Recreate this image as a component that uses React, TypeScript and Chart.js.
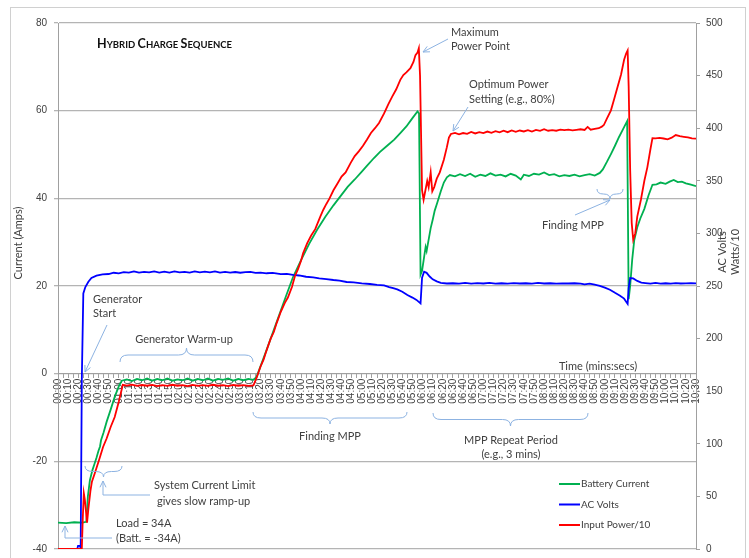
import React, { useEffect, useRef } from 'react';
import { Chart, registerables } from 'chart.js';

Chart.register(...registerables);

// ---------- data ----------
const batteryTime = [0, 8, 16, 24, 28, 29.5, 31.5, 34, 36, 38, 40, 41.5, 42.5, 45, 48, 52, 56, 60, 63, 68, 73, 78, 83, 88, 93, 98, 103, 108, 113, 118, 123, 128, 133, 138, 143, 148, 153, 158, 163, 168, 173, 178, 183, 188, 193, 196, 205, 215, 225, 232, 240, 248, 256, 264, 272, 279, 286, 293, 300, 305, 312, 318, 325, 332, 338, 344, 350, 355, 356.5, 358, 359.5, 361, 363, 364, 366, 368, 370, 372, 374.5, 378, 381, 384, 387, 392, 397, 402, 407, 412, 417, 422, 427, 432, 437, 442, 447, 452, 457, 460, 465, 470, 475, 480, 485, 490, 495, 500, 505, 510, 515, 520, 525, 530, 535, 538, 542, 546, 550, 554, 558, 562, 563.5, 565, 567, 569, 572, 575, 579, 583, 587, 591, 595, 600, 604, 608, 612, 616, 620, 625, 630];
const batteryAmps = [-34.0, -34.1, -33.9, -34.0, -33.8, -28, -24.3, -22.0, -20.6, -19.2, -17.6, -16.6, -15.2, -13.4, -11.0, -8.2, -5.3, -2.9, -1.6, -1.3, -1.7, -1.2, -1.5, -1.1, -1.6, -1.2, -1.5, -1.1, -1.6, -1.3, -1.5, -1.1, -1.6, -1.2, -1.5, -1.1, -1.6, -1.2, -1.4, -1.1, -1.6, -1.2, -1.5, -1.2, -1.4, -0.8, 4.8, 11.2, 17.6, 22.0, 25.9, 29.6, 32.9, 35.8, 38.4, 40.5, 42.6, 44.3, 46.1, 47.4, 49.2, 50.6, 52.0, 53.4, 54.9, 56.4, 58.3, 59.8, 59.4, 22.6, 23.5, 25.8, 28.9, 28.0, 30.6, 33.2, 35.1, 37.2, 39.0, 41.6, 43.6, 44.8, 45.3, 45.0, 45.5, 45.1, 45.6, 44.9, 45.4, 45.1, 45.7, 45.2, 45.4, 45.0, 45.6, 45.2, 44.3, 45.4, 45.1, 45.6, 45.4, 45.9, 45.3, 45.5, 45.0, 45.3, 45.1, 45.4, 45.0, 45.3, 45.5, 45.2, 45.8, 46.6, 48.3, 50.1, 52.0, 54.0, 55.8, 57.6, 17.0, 20.0, 26.0, 30.4, 33.4, 35.4, 37.6, 40.6, 43.1, 43.2, 43.6, 43.3, 43.8, 44.2, 43.7, 43.8, 43.4, 43.1, 42.8];

const acTime = [0, 19, 19.8, 21.5, 22.4, 23.5, 25, 27, 30, 33, 38, 44, 50, 55, 60, 65, 70, 75, 80, 85, 90, 95, 100, 105, 110, 115, 120, 125, 130, 135, 140, 145, 150, 155, 160, 165, 170, 175, 180, 185, 190, 195, 200, 206, 212, 220, 226, 232, 238, 245, 252, 258, 265, 272, 278, 285, 292, 300, 308, 315, 322, 327, 331, 335, 340, 345, 350, 354, 358, 359.5, 361.5, 364, 367, 370, 374, 378, 384, 390, 396, 402, 408, 414, 420, 426, 432, 438, 444, 450, 456, 462, 468, 474, 480, 486, 492, 498, 504, 510, 516, 520, 525, 530, 535, 540, 545, 550, 555, 559, 562.5, 563.5, 565, 568, 572, 576, 580, 585, 590, 595, 600, 605, 610, 615, 620, 625, 630];
const acVolts = [0, 0, 3, 3, 1, 160, 243, 249, 254, 257.6, 259.8, 261.0, 261.4, 262.6, 262.0, 263.2, 262.8, 263.8, 262.7, 263.5, 262.9, 263.9, 262.8, 263.6, 262.7, 263.8, 262.9, 263.5, 262.8, 263.9, 262.9, 263.6, 263.0, 263.8, 262.7, 263.5, 262.8, 263.3, 262.6, 263.2, 263.4, 262.5, 262.8, 262.1, 262.4, 261.3, 261.6, 260.5, 260.0, 258.8, 258.2, 257.2, 256.6, 255.7, 255.1, 253.8, 253.5, 252.5, 251.9, 251.0, 250.5, 249.0, 248.0, 246.8, 244.6, 241.4, 239.0, 236.8, 233.5, 258, 263.6, 262.5, 259.0, 256.3, 254.4, 253.0, 252.4, 252.6, 252.2, 252.9, 252.3, 252.7, 252.4, 253.0, 252.3, 252.6, 252.3, 252.8, 252.4, 252.6, 252.3, 252.9, 252.4, 252.6, 252.3, 252.5, 252.4, 252.6, 252.3, 251.6, 252.2, 251.2, 250.2, 248.5, 246.4, 243.5, 240.8, 238.0, 233.0, 248, 257.6, 257.2, 254.8, 253.2, 252.8, 252.2, 252.9, 252.3, 252.6, 252.2, 252.8, 252.4, 252.5, 252.8, 252.5];

const powerTime = [0, 23.5, 24.5, 25.5, 26.5, 28.7, 30, 32, 33.5, 36, 38, 41, 44.5, 48, 52, 56, 60, 64, 68, 73, 78, 83, 88, 93, 98, 103, 108, 113, 118, 123, 128, 133, 138, 143, 148, 153, 158, 163, 168, 173, 178, 183, 188, 193, 196.5, 200, 203, 205, 208, 210, 213, 216, 220, 224, 227, 231, 234, 237, 240, 242, 246, 250, 254, 259, 262, 265, 268, 272, 276, 280, 284, 289, 293, 297, 301, 305, 309, 313, 317, 322, 326, 330, 334, 338, 341, 344, 348, 351, 353, 355, 356.3, 357.5, 359.5, 361, 363, 364.6, 366, 368, 369.6, 371.5, 374, 377, 381, 384, 386, 388, 392, 396, 400, 404, 408, 412, 416, 420, 424, 428, 432, 436, 440, 444, 448, 452, 456, 460, 464, 468, 472, 476, 480, 484, 488, 492, 496, 500, 504, 508, 512, 516, 520, 523, 526, 530, 534, 537, 539, 542, 546, 549, 552.6, 556, 559, 561, 562.5, 563.5, 565, 566.5, 568, 570, 572, 575.6, 579, 582, 585, 587, 590, 594, 598, 602, 606, 610, 614, 618, 622, 626, 630];
const powerWattsTen = [0, 0, 30, 53, 47, 25, 38, 55, 64, 71, 77, 86, 97, 105, 116, 125.5, 140, 156, 155.4, 156.2, 155.0, 155.9, 155.2, 156.0, 154.9, 155.7, 155.0, 156.1, 155.2, 155.8, 154.9, 156.0, 155.1, 155.8, 155.0, 156.1, 155.2, 155.7, 154.9, 155.9, 155.2, 155.8, 155.1, 155.6, 163.8, 173.5, 180, 186, 194.5, 200, 206, 215, 225.5, 234, 239, 249, 259.5, 266, 274, 281, 290.5, 298, 304, 316, 322.5, 328, 333, 341, 347.5, 354, 358, 367, 373.5, 378, 383, 389, 395.5, 400, 405, 414, 422.5, 430, 437, 446, 450.5, 453, 457, 463, 469.5, 472, 476, 450, 341, 332, 342, 350, 344, 358, 340, 344, 352, 358, 370, 382, 391, 394.5, 395.5, 394.2, 395.4, 394.6, 396.5, 395.0, 396.2, 395.3, 396.8, 395.6, 397.2, 396.0, 397.6, 396.2, 397.9, 396.6, 397.8, 396.9, 398.2, 396.8, 398.4, 397.5, 399.0, 397.6, 398.2, 397.6, 398.6, 398.1, 398.6, 397.9, 398.5, 399.0, 398.3, 401.2, 398.6, 399.3, 400.0, 401.5, 403, 409, 417, 427, 439.5, 451, 465, 471, 474, 440, 360, 310, 294, 300, 316, 332, 350, 363, 380, 390.6, 390.4, 390.8, 390.2, 389.4, 391.0, 393.5, 392.4, 391.8, 391.2, 390.4, 390.0];

const seriesLabels = ['Battery Current', 'AC Volts', 'Input Power/10'];
const seriesColors = ['#00b050', '#0000ff', '#ff0000'];

const currentMin = -40;
const currentMax = 80;
const currentStep = 20;
const voltsMin = 0;
const voltsMax = 500;
const voltsStep = 50;
const timeMin = 0;
const timeMax = 630;
const timeLabelStep = 10;
const timeTickStep = 5;

const titleText = 'Hybrid Charge Sequence';
const leftTitle = 'Current (Amps)';
const rightTitleLines = ['AC Volts', 'Watts/10'];
const xTitle = 'Time (mins:secs)';

// ---------- helpers ----------
const TXT = '#404040';
const ARROW = '#8db3e2';
const ANN_FONT = '11px Lato';

function fmtTime(v: number): string {
  const m = Math.floor(v / 60);
  const s = Math.round(v % 60);
  return String(m).padStart(2, '0') + ':' + String(s).padStart(2, '0');
}

function arrowHead(ctx: CanvasRenderingContext2D, x1: number, y1: number, x2: number, y2: number) {
  const a = Math.atan2(y2 - y1, x2 - x1);
  const h = 7;
  ctx.beginPath();
  ctx.moveTo(x2 - h * Math.cos(a - 0.45), y2 - h * Math.sin(a - 0.45));
  ctx.lineTo(x2, y2);
  ctx.lineTo(x2 - h * Math.cos(a + 0.45), y2 - h * Math.sin(a + 0.45));
  ctx.stroke();
}

function polyArrow(ctx: CanvasRenderingContext2D, pts: number[][]) {
  ctx.beginPath();
  ctx.moveTo(pts[0][0], pts[0][1]);
  for (let i = 1; i < pts.length; i++) ctx.lineTo(pts[i][0], pts[i][1]);
  ctx.stroke();
  const n = pts.length;
  arrowHead(ctx, pts[n - 2][0], pts[n - 2][1], pts[n - 1][0], pts[n - 1][1]);
}

function brace(ctx: CanvasRenderingContext2D, xl: number, xr: number, yEnd: number, yTip: number) {
  const xm = (xl + xr) / 2;
  const ym = (yEnd + yTip) / 2;
  const q = Math.min(8, (xr - xl) / 4);
  ctx.beginPath();
  ctx.moveTo(xl, yEnd);
  ctx.quadraticCurveTo(xl, ym, xl + q, ym);
  ctx.lineTo(xm - q, ym);
  ctx.quadraticCurveTo(xm, ym, xm, yTip);
  ctx.quadraticCurveTo(xm, ym, xm + q, ym);
  ctx.lineTo(xr - q, ym);
  ctx.quadraticCurveTo(xr, ym, xr, yEnd);
  ctx.stroke();
}

function smallCaps(ctx: CanvasRenderingContext2D, text: string, x: number, y: number, big: number, small: number, family: string) {
  let cx = x;
  text.split(' ').forEach((w, wi) => {
    ctx.font = `bold ${big}px ${family}`;
    if (wi > 0) cx += ctx.measureText(' ').width * 0.8;
    ctx.fillText(w[0], cx, y);
    cx += ctx.measureText(w[0]).width;
    ctx.font = `bold ${small}px ${family}`;
    const rest = w.slice(1).toUpperCase();
    ctx.fillText(rest, cx, y);
    cx += ctx.measureText(rest).width;
  });
}

const zeroPad = (s: any) => {
  s.paddingTop = 0;
  s.paddingBottom = 0;
};

const decorPlugin = {
  id: 'decor',
  beforeDraw(chart: any) {
    const ctx = chart.ctx as CanvasRenderingContext2D;
    ctx.save();
    ctx.fillStyle = '#ffffff';
    ctx.fillRect(0, 0, chart.width, chart.height);
    ctx.strokeStyle = '#d0d0d0';
    ctx.lineWidth = 1;
    ctx.strokeRect(10.5, 7.5, 735, 560);
    ctx.restore();
  },
  afterDraw(chart: any) {
    const ctx = chart.ctx as CanvasRenderingContext2D;
    ctx.save();
    // title
    ctx.fillStyle = '#111111';
    ctx.textBaseline = 'alphabetic';
    ctx.textAlign = 'left';
    smallCaps(ctx, titleText, 97, 48, 12.5, 9.5, 'Lato');

    // axis titles
    ctx.fillStyle = TXT;
    ctx.font = ANN_FONT;
    ctx.textAlign = 'center';
    ctx.textBaseline = 'middle';
    ctx.save();
    ctx.translate(18, 243);
    ctx.rotate(-Math.PI / 2);
    ctx.fillText(leftTitle, 0, 0);
    ctx.restore();
    rightTitleLines.forEach((l, i) => {
      ctx.save();
      ctx.translate(722 + i * 13, 252);
      ctx.rotate(-Math.PI / 2);
      ctx.fillText(l, 0, 0);
      ctx.restore();
    });
    ctx.fillText(xTitle, 598, 366);

    // annotation text
    ctx.textAlign = 'left';
    const t = (s: string, x: number, y: number) => ctx.fillText(s, x, y);
    t('Maximum', 451, 32);
    t('Power Point', 451, 46);
    t('Optimum Power', 469, 84);
    t('Setting (e.g., 80%)', 469, 99);
    t('Finding MPP', 542, 225);
    t('Generator', 93, 299);
    t('Start', 93, 313);
    ctx.textAlign = 'center';
    t('Generator Warm-up', 184, 339);
    t('Finding MPP', 330, 436);
    t('MPP Repeat Period', 511, 440);
    t('(e.g., 3 mins)', 511, 454);
    ctx.textAlign = 'left';
    t('System Current Limit', 154, 485);
    t('gives slow ramp-up', 157, 501);
    t('Load = 34A', 116, 523);
    t('(Batt. = -34A)', 116, 538);

    // arrows & braces
    ctx.strokeStyle = ARROW;
    ctx.lineWidth = 1;
    polyArrow(ctx, [[448, 39], [423, 52]]);
    polyArrow(ctx, [[468, 107], [453, 131]]);
    polyArrow(ctx, [[575, 215], [610, 200]]);
    polyArrow(ctx, [[107, 325], [85, 372]]);
    polyArrow(ctx, [[150, 495], [103, 495], [103, 481]]);
    polyArrow(ctx, [[112, 538], [65, 538], [65, 526]]);
    brace(ctx, 120, 253, 362, 348);
    brace(ctx, 253, 407, 412, 424);
    brace(ctx, 433, 588, 413, 426);
    brace(ctx, 85, 122, 466, 477);
    brace(ctx, 597, 623, 189, 199);

    // legend
    ctx.font = '10px Lato';
    ctx.textAlign = 'left';
    ctx.textBaseline = 'middle';
    chart.data.datasets.forEach((ds: any, i: number) => {
      const y = 484 + i * 20.5;
      ctx.strokeStyle = ds.borderColor;
      ctx.lineWidth = 2;
      ctx.beginPath();
      ctx.moveTo(559, y);
      ctx.lineTo(580, y);
      ctx.stroke();
      ctx.fillStyle = TXT;
      ctx.fillText(ds.label, 581, y);
    });
    ctx.restore();
  },
};

export default function App() {
  const ref = useRef<HTMLCanvasElement | null>(null);
  useEffect(() => {
    document.body.style.margin = '0';
    const canvas = ref.current;
    if (!canvas) return;
    const toPts = (xs: number[], ys: number[]) => xs.map((x, i) => ({ x, y: ys[i] }));
    const tickFont = { family: '"Liberation Sans", Arial, sans-serif', size: 10 };
    const chart = new Chart(canvas, {
      type: 'line',
      data: {
        datasets: [
          { label: seriesLabels[0], data: toPts(batteryTime, batteryAmps), yAxisID: 'y', borderColor: seriesColors[0], borderWidth: 1.8, pointRadius: 0, tension: 0, order: 3 },
          { label: seriesLabels[1], data: toPts(acTime, acVolts), yAxisID: 'y1', borderColor: seriesColors[1], borderWidth: 1.8, pointRadius: 0, tension: 0, order: 2 },
          { label: seriesLabels[2], data: toPts(powerTime, powerWattsTen), yAxisID: 'y1', borderColor: seriesColors[2], borderWidth: 1.8, pointRadius: 0, tension: 0, order: 1 },
        ],
      },
      options: {
        animation: false,
        responsive: false,
        devicePixelRatio: 1,
        layout: { padding: { top: 23, bottom: 9, left: 0, right: 0 } },
        plugins: { legend: { display: false }, tooltip: { enabled: false } },
        scales: {
          x: {
            type: 'linear',
            position: { y: 0 } as any,
            min: timeMin,
            max: timeMax,
            grid: { drawOnChartArea: false, tickLength: 4, color: '#a0a0a0' },
            border: { color: '#a0a0a0' },
            ticks: {
              stepSize: timeTickStep,
              maxTicksLimit: 500,
              autoSkip: false,
              minRotation: 90,
              maxRotation: 90,
              padding: 1,
              color: TXT,
              font: tickFont,
              callback: (v: any) => (Math.round(v) % timeLabelStep === 0 ? fmtTime(Number(v)) : ''),
            },
            afterFit: (s: any) => { zeroPad(s); s.paddingLeft = 0; s.paddingRight = 0; },
          },
          y: {
            type: 'linear',
            position: 'left',
            min: currentMin,
            max: currentMax,
            grid: { color: '#b4b4b4', lineWidth: 1.3, tickLength: 4 },
            border: { color: '#a0a0a0' },
            ticks: { stepSize: currentStep, padding: 7, color: TXT, font: tickFont },
            afterFit: (s: any) => { s.width = 58; zeroPad(s); },
          },
          y1: {
            type: 'linear',
            position: 'right',
            min: voltsMin,
            max: voltsMax,
            grid: { drawOnChartArea: false, tickLength: 4, color: '#a0a0a0' },
            border: { color: '#a0a0a0' },
            ticks: { stepSize: voltsStep, padding: 6, color: TXT, font: tickFont },
            afterFit: (s: any) => { s.width = 53; zeroPad(s); },
          },
        },
      } as any,
      plugins: [decorPlugin],
    });
    return () => chart.destroy();
  }, []);
  return (
    <div style={{ position: 'absolute', left: 0, top: 0, width: 749, height: 558 }}>
      <canvas ref={ref} width={749} height={558} />
    </div>
  );
}
